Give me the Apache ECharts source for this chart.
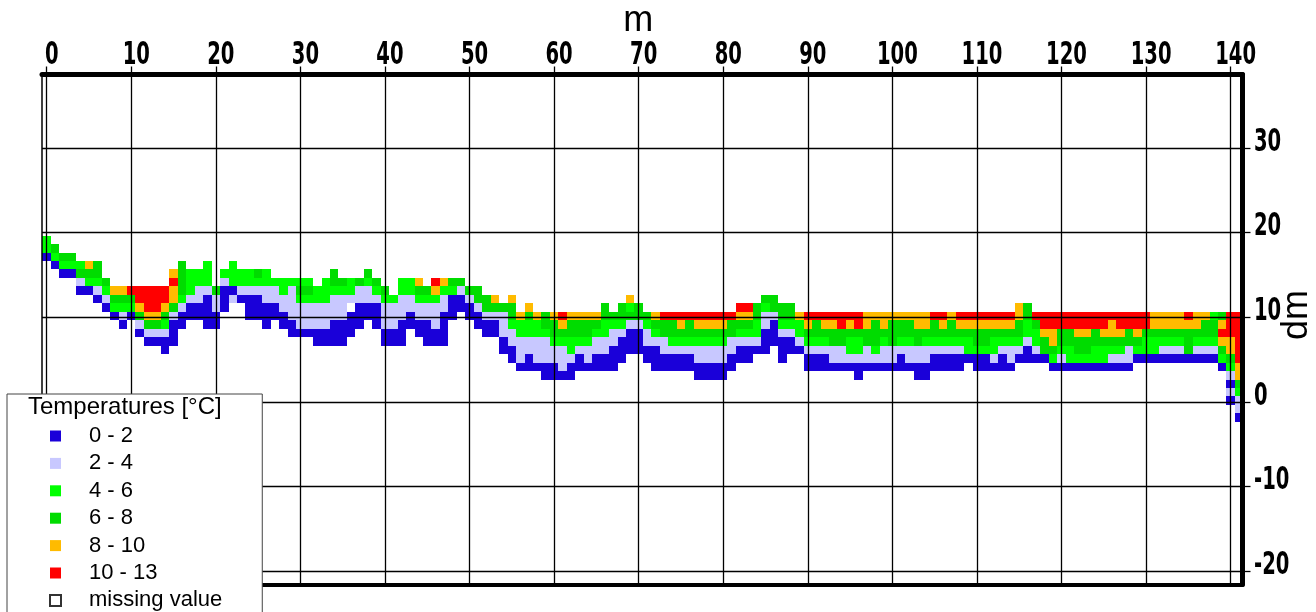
<!DOCTYPE html>
<html>
<head>
<meta charset="utf-8">
<script src="https://cdn.jsdelivr.net/npm/echarts@6/dist/echarts.min.js"></script>
<style>
html,body{margin:0;padding:0;background:#fff;}
#chart{width:1316px;height:612px;}
</style>
</head>
<body>
<div id="chart"></div>
<script>
// ---- data ----
const xTicks = [0,10,20,30,40,50,60,70,80,90,100,110,120,130,140];
const yTicks = [-20,-10,0,10,20,30];
const classNames = ['0 - 2','2 - 4','4 - 6','6 - 8','8 - 10','10 - 13'];
const missingName = 'missing value';
const classColors = ['#1a00d9','#c8c8ff','#00ff00','#00dc00','#ffbb00','#ff0000'];
// for each column (m = index): top depth index (dm) of the first cell
const columnTop = [
 19,18,17,17,16,16,16,14,13,13, 13,13,13,13,13,15,16,15,15,16,
 13,15,16,15,15,15,15,14,14,14, 14,14,13,14,15,14,14,14,15,14,
 13,12,14,14,14,13,14,14,14,14, 13,13,12,12,11,12,10,11,10,10,
 10,10,10,10,10,10,11,10,11,12, 11,10,10,10,10,10,10,10,10,10,
 10,10,11,11,11,12,12,11,11,10, 10,10,10,10,10,10,10,10,10,10,
 10,10,10,10,10,10,10,10,10,10, 10,10,10,10,10,11,11,10,10,10,
 10,10,10,10,10,10,10,10,10,10, 10,10,10,10,10,10,10,10,10,10,
 10,10
];
// temperature classes from top to bottom (1 = 0-2 ... 6 = 10-13, 0 = no cell)
const columnClasses = [
 '331','431','431','431','3421','5431','44321','4321','5431','54321',
 '6431','665421','6665421','6665421','66543211','565542111','44443211','333211','332211','33321111',
 '42211','32111','33312','3321','332111','432111','3322111','32211','332211','3222211',
 '3432221','3432221','3322211','33322211','443222111','43222111','3320111','422111','432211','432111',
 '4322211','322211','33222111','332211','5432211','4322111','65322211','53221111','43111','4211',
 '4211','44211','44211','54211','422211','54432211','5332221','54332211','5332221','44322211',
 '54432211','65432221','54433211','5443211','5443221','5432211','44332211','4322111','4432111','5342111',
 '442111','432211','5432111','6442211','6443211','6543211','6443211','65432211','65432211','65432211',
 '65432211','6442211','6543211','6543211','443321','4322111','442111','4432111','443211','53321',
 '6543211','6443211','6543211','6544221','6644221','6543321','66433211','5544221','5444321','5543221',
 '5444221','5443211','5443221','55442211','55432211','6443211','6543211','5443211','6543211','654331',
 '6544311','6544311','6543321','6543211','6543221','5544321','4433211','643321','665441','6655431',
 '6644321','6644331','6654431','6654431','6644331','6654331','6554321','6654321','6644221','665431',
 '664331','554331','554321','554321','554321','654441','554321','544321','344321','4565431',
 '66655432121','6666665543221'
];

// ---- axis extents ----
const X_MIN = -0.556, X_MAX = 141.4;
const Y_MIN = -21.55, Y_MAX = 38.67;

// ---- build cells ----
const cellsByClass = classNames.map(() => []);
columnClasses.forEach((s, c) => {
  for (let i = 0; i < s.length; i++) {
    const cls = +s[i];
    if (cls > 0) cellsByClass[cls - 1].push([c, columnTop[c] - i]);
  }
});

function renderCell(params, api) {
  const x = api.value(0), y = api.value(1);
  const a = api.coord([x - 0.5, y + 0.65]);
  const b = api.coord([x + 0.5, y - 0.35]);
  const x0 = Math.round(a[0]), x1 = Math.round(b[0]);
  const y0 = Math.round(a[1]), y1 = Math.round(b[1]);
  return {
    type: 'rect',
    shape: {x: x0, y: y0, width: x1 - x0, height: y1 - y0},
    style: {fill: api.visual('color')}
  };
}

const tickFont = "bold 32px 'DejaVu Sans Condensed','DejaVu Sans',sans-serif";
const textFont = "'Liberation Sans',Arial,sans-serif";

// narrow tick labels, placed from the axis scales
function renderXLabel(params, api) {
  const v = api.value(0);
  const p = api.coord([v, Y_MAX]);
  return {
    type: 'text', x: p[0] + 5, y: p[1] - 19, scaleX: 0.68,
    style: {text: String(v), font: tickFont, fill: '#000', align: 'center', verticalAlign: 'middle'}
  };
}
function renderYLabel(params, api) {
  const v = api.value(0);
  const p = api.coord([X_MAX, v]);
  return {
    type: 'text', x: p[0] + 11.5, y: p[1] - 5.5, scaleX: 0.68,
    style: {text: String(v), font: tickFont, fill: '#000', align: 'left', verticalAlign: 'middle'}
  };
}

const series = classNames.map((name, i) => ({
  name: name,
  type: 'custom',
  renderItem: renderCell,
  clip: true,
  z: 2,
  itemStyle: {color: classColors[i]},
  encode: {x: 0, y: 1},
  data: cellsByClass[i]
}));
series.push({
  name: missingName,
  type: 'custom',
  renderItem: renderCell,
  z: 2,
  itemStyle: {color: '#ffffff', borderColor: '#333', borderWidth: 1},
  data: []
});
series.push({
  name: 'grid',
  type: 'line',
  data: [],
  silent: true,
  markLine: {
    silent: true,
    z: 5,
    symbol: ['none', 'none'],
    animation: false,
    label: {show: false},
    lineStyle: {color: '#000', width: 1.3, type: 'solid'},
    data: xTicks.map(v => ({xAxis: v})).concat(yTicks.map(v => ({yAxis: v})))
  }
});
series.push({
  name: 'xLabels', type: 'custom', silent: true, clip: false, z: 12,
  renderItem: renderXLabel, encode: {x: 0}, data: xTicks.map(v => [v])
});
series.push({
  name: 'yLabels', type: 'custom', silent: true, clip: false, z: 12,
  renderItem: renderYLabel, encode: {y: 0}, data: yTicks.map(v => [v])
});

const chart = echarts.init(document.getElementById('chart'), null, {renderer: 'canvas'});
chart.setOption({
  animation: false,
  backgroundColor: '#fff',
  grid: {left: 42, right: 73.5, top: 74.5, bottom: 27.5, containLabel: false, outerBoundsMode: 'none'},
  title: {
    text: 'Temperatures [°C]',
    left: 28, top: 395, padding: 0, z: 21,
    textStyle: {fontSize: 24, fontWeight: 'normal', fontFamily: textFont, color: '#000'}
  },
  legend: {
    orient: 'vertical',
    left: 7, top: 394, height: 300, z: 20,
    padding: [31, 40, 12, 42],
    backgroundColor: '#fff',
    borderColor: '#444', borderWidth: 1,
    itemWidth: 11, itemHeight: 11, itemGap: 5.4,
    icon: 'rect',
    selectedMode: false,
    textStyle: {fontSize: 22, lineHeight: 22, fontFamily: textFont, color: '#000', padding: [0, 0, 0, 23]},
    data: classNames.concat([missingName])
  },
  xAxis: [{
    type: 'value', position: 'top', min: X_MIN, max: X_MAX, z: 10,
    name: 'm', nameLocation: 'middle', nameGap: 35, nameMoveOverlap: false,
    nameTextStyle: {fontSize: 36, fontFamily: textFont, color: '#000', padding: [0, 8, 0, 0]},
    axisLine: {show: true, onZero: false, lineStyle: {color: '#000', width: 5}},
    axisTick: {show: true, customValues: xTicks, length: 8, lineStyle: {color: '#000', width: 1.3}},
    axisLabel: {show: false},
    splitLine: {show: false}
  }, {
    type: 'value', position: 'bottom', min: X_MIN, max: X_MAX, z: 10,
    axisLine: {show: true, onZero: false, lineStyle: {color: '#000', width: 4}},
    axisTick: {show: false}, axisLabel: {show: false}, splitLine: {show: false}
  }],
  yAxis: [{
    type: 'value', position: 'right', min: Y_MIN, max: Y_MAX, z: 10,
    name: 'dm', nameLocation: 'middle', nameGap: 37, nameRotate: 90, nameMoveOverlap: false,
    nameTextStyle: {fontSize: 36, fontFamily: textFont, color: '#000', padding: [0, 0, 0, 29]},
    axisLine: {show: true, onZero: false, lineStyle: {color: '#000', width: 5}},
    axisTick: {show: true, customValues: yTicks, length: 8, lineStyle: {color: '#000', width: 1.3}},
    axisLabel: {show: false},
    splitLine: {show: false}
  }, {
    type: 'value', position: 'left', min: Y_MIN, max: Y_MAX, z: 10,
    axisLine: {show: true, onZero: false, lineStyle: {color: '#000', width: 1.5}},
    axisTick: {show: false}, axisLabel: {show: false}, splitLine: {show: false}
  }],
  series: series
});
</script>
</body>
</html>
